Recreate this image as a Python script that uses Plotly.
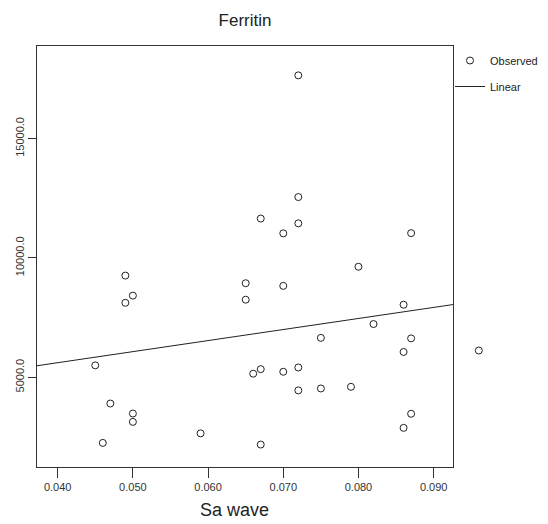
import plotly.graph_objects as go

# Observed data (Sa wave vs Ferritin)
sa_wave = [0.072, 0.072, 0.067, 0.072, 0.070, 0.087, 0.080, 0.065, 0.070, 0.065,
           0.086, 0.082, 0.075, 0.087, 0.086, 0.066, 0.067, 0.070, 0.072,
           0.072, 0.075, 0.079, 0.087, 0.086, 0.067, 0.045, 0.047, 0.050, 0.050,
           0.059, 0.046, 0.049, 0.049, 0.050]
ferritin = [17650, 12550, 11650, 11450, 11030, 11040, 9630, 8940, 8830, 8250,
            8040, 7230, 6650, 6630, 6060, 5150, 5340, 5230, 5410,
            4450, 4530, 4600, 3470, 2880, 2180, 5500, 3900, 3480, 3130,
            2650, 2250, 9260, 8120, 8420]
# observation lying beyond the right edge of the axis range
outside_x = [0.096]
outside_y = [6120]

# Linear fit coefficients
fit_intercept = 3757.0
fit_slope = 46330.0

x_range = [0.03725, 0.09257]
y_range = [1240, 18880]
x_ticks = [0.040, 0.050, 0.060, 0.070, 0.080, 0.090]
y_ticks = [5000, 10000, 15000]

FONT = "Liberation Sans, Arial, Helvetica, sans-serif"
INK = "#222222"

# layout geometry
W, H = 548, 524
ML, MR, MT, MB = 37, 40, 46, 57
plot_w = W - ML - MR
main_frac = (453 - ML) / plot_w
x2_range = [x_range[0], x_range[0] + (x_range[1] - x_range[0]) / main_frac]

fit_x = list(x_range)
fit_y = [fit_intercept + fit_slope * v for v in fit_x]

marker = dict(symbol="circle-open", size=7, color=INK, line=dict(width=1, color=INK))

fig = go.Figure()
fig.add_trace(go.Scatter(
    x=sa_wave, y=ferritin, mode="markers", name="Observed",
    marker=marker, legendgroup="a",
))
fig.add_trace(go.Scatter(
    x=outside_x, y=outside_y, mode="markers", name="Observed",
    marker=marker, xaxis="x2", yaxis="y", showlegend=False, legendgroup="a",
))
fig.add_trace(go.Scatter(
    x=fit_x, y=fit_y, mode="lines", name="Linear",
    line=dict(color=INK, width=1), legendgroup="b",
))

fig.update_layout(
    width=W, height=H,
    margin=dict(l=ML, r=MR, t=MT, b=MB, autoexpand=False),
    paper_bgcolor="white", plot_bgcolor="rgba(0,0,0,0)",
    font=dict(family=FONT, color="#333333", size=11),
    title=dict(text="Ferritin", x=(ML + 453) / 2 / W, xanchor="center", y=1 - 20 / H, yanchor="middle",
               font=dict(size=17, color=INK, family=FONT)),
    showlegend=True,
    legend=dict(x=(450 - ML) / plot_w, y=1.0, xanchor="left", yanchor="top", bgcolor="rgba(0,0,0,0)",
                font=dict(size=11, color=INK), tracegroupgap=7, itemwidth=30),
    annotations=[dict(text="Sa wave", xref="paper", yref="paper", x=(234 - ML) / plot_w,
                      y=(467 - 510) / (H - MT - MB),
                      xanchor="center", yanchor="middle", showarrow=False,
                      font=dict(size=18, color=INK, family=FONT))],
    xaxis=dict(domain=[0, main_frac], range=x_range, tickvals=x_ticks, tickformat=".3f",
               ticks="outside", ticklen=10, tickcolor="#333333", showline=True, linecolor="#333333",
               linewidth=1, mirror=True, showgrid=False, zeroline=False, automargin=False,
               tickfont=dict(size=11, color="#333333")),
    xaxis2=dict(domain=[0, 1], range=x2_range, anchor="y", visible=False, showgrid=False,
                zeroline=False, automargin=False),
    yaxis=dict(range=y_range, tickvals=y_ticks, tickformat=".1f", ticks="outside", ticklen=8,
               tickcolor="#333333", showline=True, linecolor="#333333", linewidth=1, mirror=True,
               showgrid=False, zeroline=False, tickangle=-90, automargin=False,
               tickfont=dict(size=11, color="#333333")),
)

fig.write_html(
    "out.html",
    config={"displayModeBar": False},
    post_script="document.body.style.margin='0';document.body.style.overflow='hidden';",
)
